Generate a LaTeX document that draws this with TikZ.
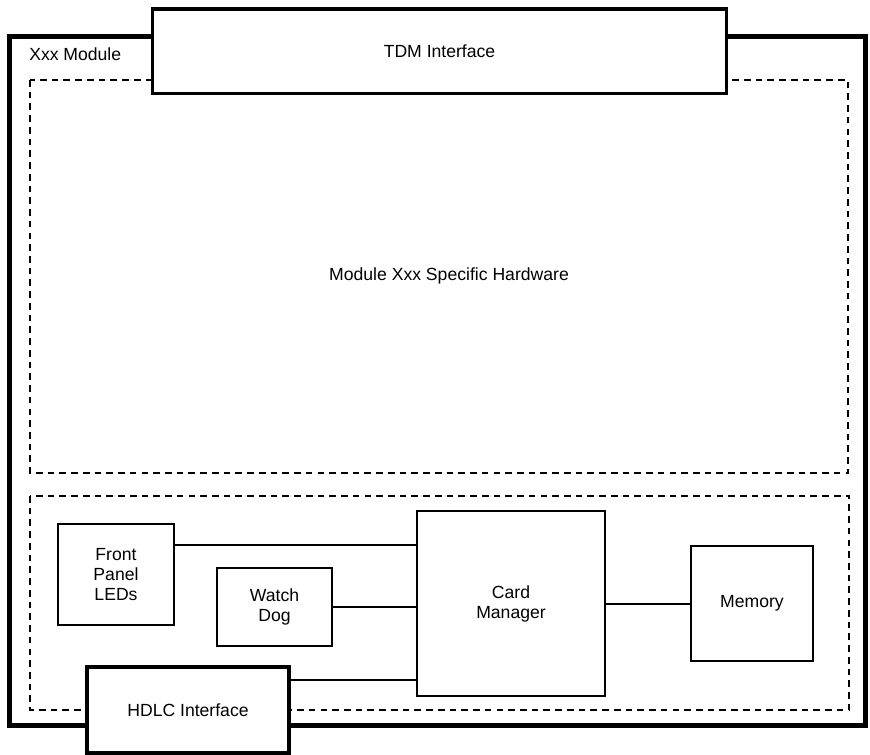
\documentclass[tikz,border=0pt]{standalone}
\usepackage{fontspec}
\setmainfont{Liberation Sans}
\usetikzlibrary{positioning,calc}

\begin{document}
\begin{tikzpicture}[
            x=0.75pt, y=-0.75pt,
            font=\fontsize{13.2}{15}\selectfont,
            block/.style={
                draw,
                align=center,
                line width=1.5pt,
                inner sep=0pt
            },
            port/.style={
                block,
                fill=white,
                line width=2.5pt
            },
            region/.style={dashed, dash pattern=on 5pt off 3.8pt, line width=1.2pt},
            link/.style={line width=1.5pt}
        ]
        \useasboundingbox (0,0) rectangle (870,754);

        % Module frame and its two areas
        \draw[line width=3.75pt] (9,36) rectangle (865,725.5);
        \node[anchor=base west, inner sep=0pt] (modname) at (29,60) {Xxx Module};
        \draw[region] (30,80) rectangle (848,473);
        \draw[region] (30,496) rectangle (849,710);
        \node (hw) at (449,276) {Module Xxx Specific Hardware};

        % Interfaces on the frame
        \node[port, minimum width=574*0.75pt, minimum height=84.5*0.75pt] (tdm) at (439.5,51.25) {TDM Interface};
        \node[port, minimum width=202*0.75pt, minimum height=86*0.75pt] (hdlc) at (188,710) {HDLC Interface};

        % Blocks of the common part
        \node[block, minimum width=116*0.75pt, minimum height=101*0.75pt] (leds) at (116,574.5) {Front\\Panel\\LEDs};
        \node[block, minimum width=115*0.75pt, minimum height=78*0.75pt] (dog) at (274.5,607) {Watch\\Dog};
        \node[block, minimum width=188*0.75pt, minimum height=185*0.75pt] (card) at (511,603.5) {Card\\Manager};
        \node[block, minimum width=122*0.75pt, minimum height=115*0.75pt] (mem) at (752,603.5) {Memory};

        % Connections to the card manager
        \coordinate (ledsout) at ([yshift=-16.5pt]leds.north east);
        \coordinate (hdlcout) at ([yshift=-11.25pt]hdlc.north east);
        \draw[link] (ledsout) -- (ledsout -| card.west);
        \draw[link] (dog.east) -- (dog.east -| card.west);
        \draw[link] (hdlcout) -- (hdlcout -| card.west);
        \draw[link] (card.east) -- (mem.west);

        \end{tikzpicture}
\end{document}
